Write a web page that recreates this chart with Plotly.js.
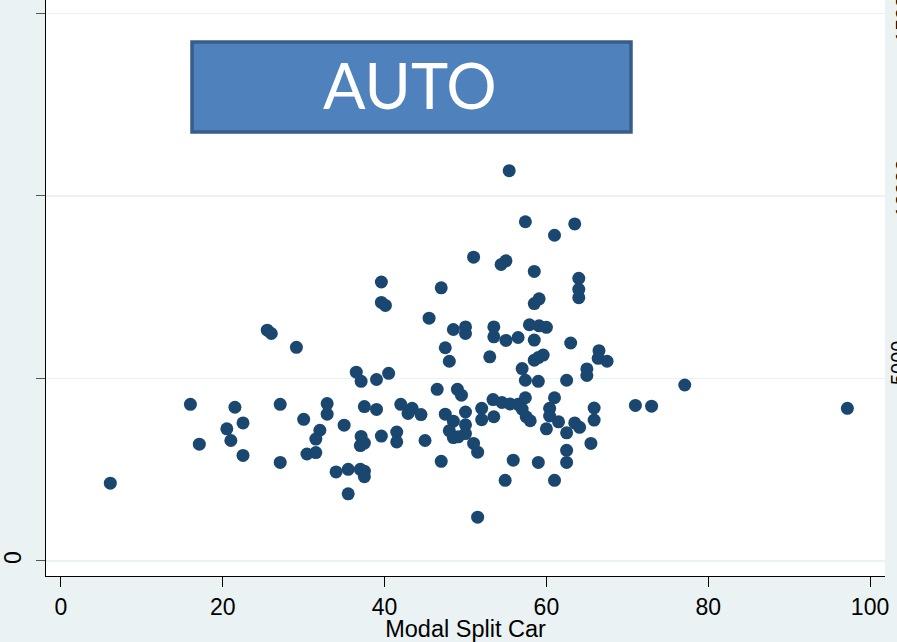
<!DOCTYPE html>
<html>
<head>
<meta charset="utf-8">
<script src="https://cdn.plot.ly/plotly-3.0.1.min.js"></script>
<style>html,body{margin:0;padding:0;background:#EAF2F3;}#chart{width:897px;height:642px;}</style>
</head>
<body>
<div id="chart"></div>
<script>
// Modal split (car, %) vs. value, one point per observation
const modalSplitCar = [
  6.1, 16.0, 17.1, 21.5, 20.5, 22.5, 21.0, 22.5, 25.5, 26.0,
  29.1, 27.1, 27.1, 30.0, 32.9, 32.9, 32.0, 31.5, 30.4, 31.5,
  35.0, 34.0, 35.5, 35.5, 37.0, 37.5, 37.5, 36.5, 37.1, 39.0,
  40.5, 37.5, 39.0, 37.1, 37.5, 37.0, 39.6, 41.5, 41.5, 39.6,
  39.6, 40.1, 45.5, 47.0, 51.0, 48.5, 50.0, 50.0, 47.5, 48.0,
  46.5, 49.0, 49.5, 42.0, 43.4, 42.9, 44.5, 45.0, 47.5, 48.5,
  50.0, 50.0, 50.0, 48.0, 48.5, 49.1, 51.0, 51.5, 47.0, 51.5,
  55.4, 57.4, 63.5, 61.0, 54.4, 55.0, 58.5, 64.0, 64.0, 64.0,
  58.5, 59.1, 53.5, 53.5, 55.0, 56.5, 57.9, 59.1, 60.0, 58.5,
  63.0, 53.0, 58.5, 59.0, 59.6, 57.0, 66.5, 66.4, 67.5, 65.0,
  65.0, 57.4, 59.0, 62.5, 77.1, 53.4, 54.5, 55.5, 56.5, 57.4,
  57.0, 57.5, 58.0, 61.0, 60.4, 60.4, 61.5, 65.9, 65.9, 71.0,
  73.0, 53.5, 52.0, 52.0, 60.0, 62.5, 63.5, 64.1, 65.5, 55.9,
  59.0, 62.5, 62.5, 54.9, 61.0, 97.2
];
const yValues = [
  2130, 4290, 3200, 4210, 3620, 3780, 3300, 2890, 6320, 6230,
  5850, 4290, 2700, 3880, 4310, 4020, 3580, 3340, 2930, 2970,
  3720, 2440, 2510, 1840, 2510, 2460, 2310, 5170, 4920, 4970,
  5140, 4230, 4150, 3410, 3230, 3160, 3420, 3530, 3260, 7640,
  7080, 7000, 6650, 7480, 8320, 6340, 6410, 6230, 5840, 5470,
  4700, 4700, 4540, 4290, 4180, 4040, 4010, 3300, 4020, 3830,
  4080, 3730, 3490, 3570, 3380, 3400, 3220, 2980, 2730, 1200,
  10690, 9290, 9230, 8920, 8120, 8220, 7930, 7740, 7440, 7210,
  7050, 7180, 6410, 6140, 6040, 6120, 6470, 6440, 6400, 6050,
  5970, 5590, 5500, 5570, 5640, 5270, 5760, 5550, 5470, 5260,
  5080, 4950, 4920, 4950, 4820, 4420, 4340, 4300, 4290, 4470,
  4160, 3950, 3840, 4470, 4180, 3970, 3810, 4190, 3860, 4260,
  4240, 3950, 4180, 3870, 3620, 3510, 3780, 3660, 3220, 2760,
  2700, 3030, 2700, 2210, 2210, 4180
];
const xTickVals = [0, 20, 40, 60, 80, 100];
const xTickText = ['0', '20', '40', '60', '80', '100'];
const yTickVals = [0, 5000, 10000, 15000];
const yTickText = ['0', '', '', ''];
const rightLabels = ['5000', '10000', '15000'];
const xTitle = 'Modal Split Car';
const boxLabel = 'AUTO';

const W = 897, H = 642;
const L = 46, R = 12, T = 0, B = 66;
const pw = W - L - R, ph = H - T - B;
const px = v => (v - L) / pw;          // page x pixel -> paper
const py = v => (H - B - v) / ph;      // page y pixel -> paper

const trace = {
  type: 'scatter', mode: 'markers',
  x: modalSplitCar, y: yValues,
  marker: {color: '#1A476F', size: 13, line: {width: 0}},
  hoverinfo: 'x+y'
};

const font = 'Liberation Sans, Arial, sans-serif';
const layout = {
  width: W, height: H,
  margin: {l: L, r: R, t: T, b: B, pad: 0},
  paper_bgcolor: '#EAF2F3', plot_bgcolor: '#FFFFFF',
  showlegend: false,
  xaxis: {
    range: [-1.85, 101.85], tickvals: xTickVals, ticktext: xTickText,
    showgrid: false, zeroline: false, showline: true, linecolor: '#000000', linewidth: 1,
    ticks: 'outside', ticklen: 10, tickcolor: '#000000', tickwidth: 1,
    tickfont: {family: font, size: 23, color: '#000000'},
    title: {text: xTitle, font: {family: font, size: 23.5, color: '#000000'}, standoff: 1}
  },
  yaxis: {
    range: [-411, 15363], tickvals: yTickVals, ticktext: yTickText,
    showgrid: true, gridcolor: '#EAF2F3', gridwidth: 1.5,
    zeroline: false, showline: true, linecolor: '#000000', linewidth: 1,
    ticks: 'outside', ticklen: 9, tickcolor: '#555555', tickwidth: 1,
    tickangle: -90, ticklabelstandoff: 6,
    tickfont: {family: font, size: 23, color: '#000000'}
  },
  shapes: [{
    type: 'rect', xref: 'paper', yref: 'paper',
    x0: px(192), x1: px(631), y0: py(132), y1: py(42),
    fillcolor: '#4F81BD', line: {color: '#385D8A', width: 3.5}
  }],
  annotations: [
    {xref: 'paper', yref: 'paper', x: px(410), y: py(85), xanchor: 'center', yanchor: 'middle',
     text: boxLabel, showarrow: false, font: {family: 'Lato, Open Sans, sans-serif', size: 63, color: '#FFFFFF'}},
    {xref: 'paper', yref: 'paper', x: px(885), y: py(363), xanchor: 'left', yanchor: 'middle',
     text: rightLabels[0], textangle: -90, showarrow: false, font: {family: font, size: 20, color: '#000000'}},
    {xref: 'paper', yref: 'paper', x: px(888), y: py(189), xanchor: 'left', yanchor: 'middle',
     text: rightLabels[1], textangle: -90, showarrow: false, font: {family: font, size: 21, color: '#000000'}},
    {xref: 'paper', yref: 'paper', x: px(888), y: py(14), xanchor: 'left', yanchor: 'middle',
     text: rightLabels[2], textangle: -90, showarrow: false, font: {family: font, size: 21, color: '#000000'}}
  ]
};

Plotly.newPlot('chart', [trace], layout, {displayModeBar: false, staticPlot: true});
</script>
</body>
</html>
